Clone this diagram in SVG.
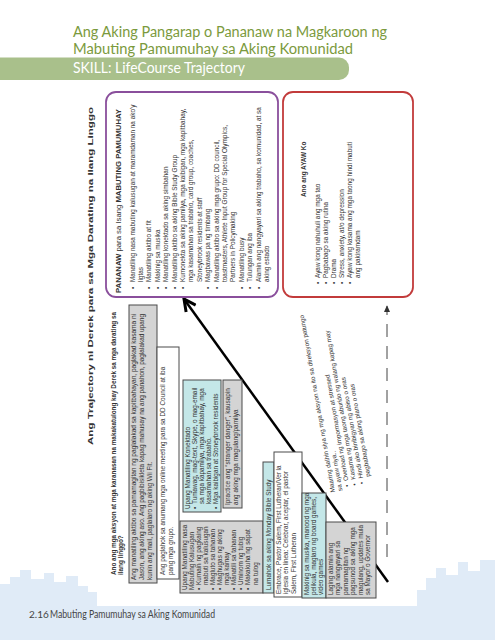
<svg xmlns="http://www.w3.org/2000/svg" width="495" height="640" viewBox="0 0 495 640">
<style>
.t{font-family:"Liberation Sans",Arial,sans-serif;font-size:6.4px;fill:#333}
.b{font-weight:bold}
.gray{fill:#d4d4d4;stroke:#4a4a4a;stroke-width:1}
.teal{fill:#c4e7e8;stroke:#4a4a4a;stroke-width:1}
.white{fill:#fff;stroke:#4a4a4a;stroke-width:1}
.hum{font-family:Lato,"Open Sans",sans-serif}
</style>
<defs>
<marker id="ahBig" viewBox="0 0 14 14" refX="12" refY="7" markerWidth="15" markerHeight="15" markerUnits="userSpaceOnUse" orient="auto"><path d="M1,1.5 L12,7 L1,12.5" fill="none" stroke="#000" stroke-width="2.8"/></marker>
<marker id="ahSmall" viewBox="0 0 8 8" refX="7" refY="4" markerWidth="7" markerHeight="7" markerUnits="userSpaceOnUse" orient="auto"><path d="M0,0.5 L8,4 L0,7.5 z" fill="#333"/></marker>
</defs>
<rect width="495" height="640" fill="#fff"/>
<g id="background" fill="#e0ebf7">
<polygon points="0,607 0,584 10,584 10,577 20,577 20,570 31,570 31,579 44,579 44,573 54,573 54,582 66,582 66,576 78,576 78,586 88,586 88,592 97,592 97,607"/>
<polygon points="417,607 417,590 426,590 426,578 436,578 436,568 446,568 446,575 458,575 458,562 468,562 468,571 480,571 480,560 495,560 495,607"/>
<rect x="0" y="606" width="495" height="34"/>
</g>
<g id="title">
<text class="hum" x="73" y="36.5" font-size="14.5" fill="#7b9a3d" textLength="314" lengthAdjust="spacingAndGlyphs">Ang Aking Pangarap o Pananaw na Magkaroon ng</text>
<text class="hum" x="73" y="54" font-size="14.5" fill="#7b9a3d" textLength="280" lengthAdjust="spacingAndGlyphs">Mabuting Pamumuhay sa Aking Komunidad</text>
<rect x="-20" y="57.5" width="369" height="22.5" rx="10" fill="#a9c08b"/>
<text class="hum" x="73" y="72.5" font-size="15" fill="#fff" textLength="172" lengthAdjust="spacingAndGlyphs">SKILL: LifeCourse Trajectory</text>
</g>
<g id="footer">
<text class="hum" x="29" y="618" font-size="10" fill="#444">2.16</text>
<text class="hum" x="50" y="618" font-size="10.5" fill="#444" textLength="165" lengthAdjust="spacingAndGlyphs">Mabuting Pamumuhay sa Aking Komunidad</text>
</g>
<g id="diagram" transform="translate(0,640) rotate(-90)">
<g id="labels">
<text class="t b" x="195" y="93" font-size="10" fill="#111" textLength="338" lengthAdjust="spacingAndGlyphs">Ang Trajectory ni Derek para sa Mga Darating na Ilang Linggo</text>
<text class="t b" x="65" y="115.5" font-size="6.4" fill="#111" textLength="263" lengthAdjust="spacingAndGlyphs">Ano ang mga aksyon at mga karanasan na makakatulong kay Derek sa mga darating sa</text>
<text class="t b" x="65" y="123" font-size="6.4" fill="#111">ilang linggo?</text>
</g>
<g id="connectors">
<line x1="58" y1="388" x2="341" y2="184" stroke="#000" stroke-width="2.5" marker-end="url(#ahBig)"/>
<line x1="83" y1="387" x2="334" y2="387" stroke="#444" stroke-width="1" stroke-dasharray="13 9" marker-end="url(#ahSmall)"/>
</g>
<g id="node-pananaw">
<rect x="343" y="106" width="205" height="172" rx="10" fill="#fff" stroke="#8a4f9c" stroke-width="1.8"/>
<text class="t" x="347" y="121" font-size="8.4" textLength="184" lengthAdjust="spacingAndGlyphs"><tspan class="b">PANANAW</tspan> para sa Isang <tspan class="b">MABUTING PAMUMUHAY</tspan></text>
<text class="t" font-size="6.9">
<tspan x="351" y="134.5">•</tspan><tspan x="358">Manatiling nasa mabuting kalusugan at maramdaman na ako'y</tspan>
<tspan x="358" y="142.9">ligtas</tspan>
<tspan x="351" y="151.3">•</tspan><tspan x="358">Manatiling aktibo at fit</tspan>
<tspan x="351" y="159.7">•</tspan><tspan x="358">Makinig sa musika</tspan>
<tspan x="351" y="168.1">•</tspan><tspan x="358">Manatiling konektado sa aking simbahan</tspan>
<tspan x="351" y="176.5">•</tspan><tspan x="358">Manatiling aktibo sa aking Bible Study Group</tspan>
<tspan x="351" y="184.9">•</tspan><tspan x="358">Kumonekta sa aking pamilya, mga kaibigan, mga kapitbahay,</tspan>
<tspan x="358" y="193.3">mga kasamahan sa trabaho, card group, coaches,</tspan>
<tspan x="358" y="201.7">Stoneybrook residents at staff</tspan>
<tspan x="351" y="210.1">•</tspan><tspan x="358">Magbawas pa ng timbang</tspan>
<tspan x="351" y="218.5">•</tspan><tspan x="358">Manatiling aktibo sa aking mga grupo: DD council,</tspan>
<tspan x="358" y="226.9">toastmasters, Athlete Input Group for Special Olympics,</tspan>
<tspan x="358" y="235.3">Partners in Policymaking</tspan>
<tspan x="351" y="243.7">•</tspan><tspan x="358">Manatiling busy</tspan>
<tspan x="351" y="252.1">•</tspan><tspan x="358">Tulungan ang iba</tspan>
<tspan x="351" y="260.5">•</tspan><tspan x="358">Alamin ang nangyayari sa aking trabaho, sa komunidad, at sa</tspan>
<tspan x="358" y="268.9">aking estado</tspan>
</text>
</g>
<g id="node-ayaw">
<rect x="343" y="283" width="205" height="130" rx="10" fill="#fff" stroke="#c23b3b" stroke-width="1.8"/>
<text class="t b" x="443" y="306" font-size="7.2">Ano ang AYAW Ko</text>
<text class="t" font-size="6.9">
<tspan x="356" y="319.5">•</tspan><tspan x="362">Ayaw kong nahuhuli ang mga tao</tspan>
<tspan x="356" y="327.5">•</tspan><tspan x="362">Pagbabago sa aking rutina</tspan>
<tspan x="356" y="335.5">•</tspan><tspan x="362">Drama</tspan>
<tspan x="356" y="343.5">•</tspan><tspan x="362">Stress, anxiety, at/o depression</tspan>
<tspan x="356" y="351.5">•</tspan><tspan x="362">Ayaw kong kasama ang mga taong hindi mabuti</tspan>
<tspan x="362" y="359.5">ang pakiramdam</tspan>
</text>
</g>
<g id="node-aktibo">
<rect class="gray" x="57" y="129" width="278" height="28"/>
<text class="t"><tspan x="60" y="135.5" textLength="266" lengthAdjust="spacingAndGlyphs">Ang manatiling aktibo sa pamamagitan ng paglalakad sa kapitbahayan, paglakad kasama ni</tspan><tspan x="60" y="143.5" textLength="266" lengthAdjust="spacingAndGlyphs">Jason, ang aking aso. Ang pagbibisikleta kapag mahusay na ang panahon, paglalakad upang</tspan><tspan x="60" y="151.5">kunin ang mail, paglalaro ng aking Wii Fit.</tspan></text>
</g>
<g id="node-online">
<rect class="white" x="61" y="157" width="232" height="22"/>
<text class="t"><tspan x="65" y="164.5">Ang paglahok sa anumang mga online meeting para sa DD Council at iba</tspan><tspan x="65" y="172.5">pang mga grupo.</tspan></text>
</g>
<g id="node-kalusugan">
<rect class="gray" x="47" y="180" width="72" height="83"/>
<text class="t">
<tspan x="50" y="186.5">Upang Manatiling nasa</tspan>
<tspan x="50" y="193.6">Mabuting Kalusugan</tspan>
<tspan x="50" y="200.7">•</tspan><tspan x="55">Kumain ng pagkaing</tspan>
<tspan x="55" y="207.8">mabuti sa kalusugan</tspan>
<tspan x="50" y="214.9">•</tspan><tspan x="55">Magluto sa tahanan</tspan>
<tspan x="50" y="222">•</tspan><tspan x="55">Maghugas ng aking</tspan>
<tspan x="55" y="229.1">mga kamay</tspan>
<tspan x="50" y="236.2">•</tspan><tspan x="55">Manatili sa tahanan</tspan>
<tspan x="50" y="243.3">•</tspan><tspan x="55">Uminom ng tubig</tspan>
<tspan x="50" y="250.4">•</tspan><tspan x="55">Makakuha ng sapat</tspan>
<tspan x="55" y="257.5">na tulog</tspan>
</text>
</g>
<g id="node-konektado">
<rect class="teal" x="128" y="183" width="132" height="38"/>
<text class="t">
<tspan x="131" y="189.5">Upang Manatiling Konektado</tspan>
<tspan x="131" y="196.5">•</tspan><tspan x="136">Tumawag, mag-text, Skype, o mag-email</tspan>
<tspan x="136" y="203.5">sa mga kapamilya, mga kapitbahay, mga</tspan>
<tspan x="136" y="210.5">kasamahan sa trabaho.</tspan>
<tspan x="131" y="217.5">•</tspan><tspan x="136">Mga kaibigan at Stoneybrook residents</tspan>
</text>
</g>
<g id="node-stranger">
<rect class="gray" x="132" y="223" width="128" height="19"/>
<text class="t"><tspan x="135" y="230">Ipractice ang “stranger danger”, kausapin</tspan><tspan x="135" y="237.5">ang aking mga magulang/pamilya</tspan></text>
</g>
<g id="node-bible">
<rect class="teal" x="47" y="263" width="131" height="11"/>
<text class="t" x="50" y="270.8">Lumahok sa aking Monday Bible Study</text>
</g>
<g id="node-embrace">
<rect class="white" x="43" y="274" width="145" height="28"/>
<text class="t"><tspan x="46" y="280.5">Embrace, Pastor Salem, First Lutheran/Ver la</tspan><tspan x="46" y="288">iglesia en línea: Celebrar, aceptar, el pastor</tspan><tspan x="46" y="295.5">Salem, First Lutheran</tspan></text>
</g>
<g id="node-musika">
<rect class="teal" x="42" y="302" width="105" height="24"/>
<text class="t"><tspan x="45" y="308.5">Makinig sa musika, manood ng mga</tspan><tspan x="45" y="315.5">pelikula, maglaro ng board games,</tspan><tspan x="45" y="322.5">video games</tspan></text>
</g>
<g id="node-balita">
<rect class="gray" x="42" y="326" width="76" height="50"/>
<text class="t"><tspan x="45" y="332.5">Laging alamin ang</tspan><tspan x="45" y="340">mga nangyayari sa</tspan><tspan x="45" y="347.5">pamamagitan ng</tspan><tspan x="45" y="355">pagsunod sa aking mga</tspan><tspan x="45" y="362.5">magulang, updates mula</tspan><tspan x="45" y="370">sa Mayor o Governor</tspan></text>
</g>
<g id="node-direksyon">
<text class="t" font-size="6.2" transform="translate(148,335) rotate(-10)">
<tspan x="0" y="0">Maaring dalhin siya ng mga aksyon na ito sa direksyon patungo</tspan>
<tspan x="0" y="7.5">sa ayaw niya..</tspan>
<tspan x="3" y="15">•</tspan><tspan x="9">Overload ng impormasyon at stressed</tspan>
<tspan x="3" y="22.5">•</tspan><tspan x="9">Kasama ng mga taong aburido ng walang kapag may</tspan>
<tspan x="3" y="30">•</tspan><tspan x="9">Hindi ako binibigyan ng abiso o oras</tspan>
<tspan x="9" y="37.5">pagbabago sa aking plano o oras</tspan>
</text>
</g>
</g>
</svg>
